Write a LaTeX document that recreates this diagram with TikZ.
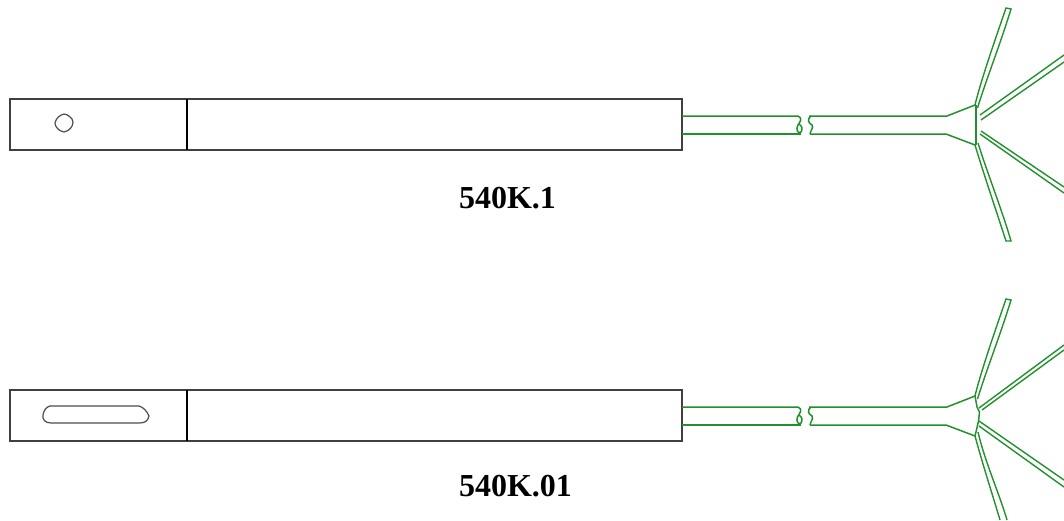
\documentclass[tikz,border=0pt]{standalone}
\usepackage{fontspec}
\setmainfont{Liberation Serif}
\definecolor{wiregreen}{RGB}{34,145,44}
\begin{document}
\begin{tikzpicture}[x=1pt,y=-1pt,body/.style={draw=black!75,line width=1.3pt},divider/.style={draw=black,line width=2.4pt},hole/.style={draw=black!70,line width=1.2pt},wire/.style={draw=wiregreen,line width=1.5pt},arm/.style={draw=wiregreen,line width=1.4pt},caption/.style={font=\bfseries\fontsize{32}{36}\selectfont,inner sep=0pt,anchor=base}]

				\useasboundingbox (0,0) rectangle (1064,520);

				% parts both probes have in common
				\foreach \off in {0,291}{
				\begin{scope}[shift={(0,\off)}]
				\draw[body] (10,99) rectangle (682,150);
				\draw[divider] (187,99) -- (187,150);
				\draw[wire] (682,116) -- (798,116) .. controls (803,118) and (800,122) .. (798,125) .. controls (795,131) and (799,134) .. (801,132) .. controls (803,129) and (802,126) .. (799,124);
				\draw[wire] (682,134) -- (801,134);
				\draw[wire] (809,116) -- (947,116) -- (975,105);
				\draw[wire] (810,134) -- (946,134) -- (975,145);
				\draw[wire] (811,116) .. controls (807,119) and (808,123) .. (812,125) .. controls (814,128) and (810,131) .. (810,134);
				\draw[arm] (975,105) .. controls (981,80) and (995,40) .. (1006,8) -- (1011,9) .. controls (1000,45) and (986,80) .. (977.5,108);
				\end{scope}
				}

				% first probe
				\draw[hole] (64,114) .. controls (67,114) and (73,118) .. (73,122) .. controls (73,127) and (69,131) .. (64,132) .. controls (59,131) and (55,127) .. (55,123) .. controls (56,118) and (60,115) .. (64,114) -- cycle;
				\draw[wire,line width=2pt] (975.5,105) -- (975.5,145);
				\draw[arm] (975,145) .. controls (984,175) and (996,210) .. (1006,241) -- (1011,241) .. controls (1002,210) and (988,175) .. (978,143);
				\draw[arm] (980,115) -- (1064,55);
				\draw[arm] (981,120) -- (1064,62);
				\draw[arm] (981,131) -- (1064,187);
				\draw[arm] (980,134) -- (1064,193);
				\node[caption] (probeA) at (507.5,208) {540K.1};

				% second probe
				\draw[hole] (50,406) -- (139,406) .. controls (143,407) and (147,411) .. (149,416) .. controls (148,421) and (145,423) .. (139,423) -- (51,423) .. controls (45,423) and (42,419) .. (43,415) .. controls (44,410) and (46,407) .. (50,406) -- cycle;
				\draw[wire] (975,396) -- (977,407) -- (979.5,412) -- (978.5,421) -- (976,432) -- (975,436);
				\draw[arm] (975,436) .. controls (982,462) and (991,490) .. (1000,520);
				\draw[arm] (978,432) .. controls (985,462) and (998,490) .. (1007,520);
				\draw[arm] (979,408) -- (1064,345);
				\draw[arm] (982,410) -- (1064,350);
				\draw[arm] (979,421) -- (1064,480);
				\draw[arm] (979,426) -- (1064,487);
				\node[caption] (probeB) at (515.5,496) {540K.01};

			\end{tikzpicture}
\end{document}
